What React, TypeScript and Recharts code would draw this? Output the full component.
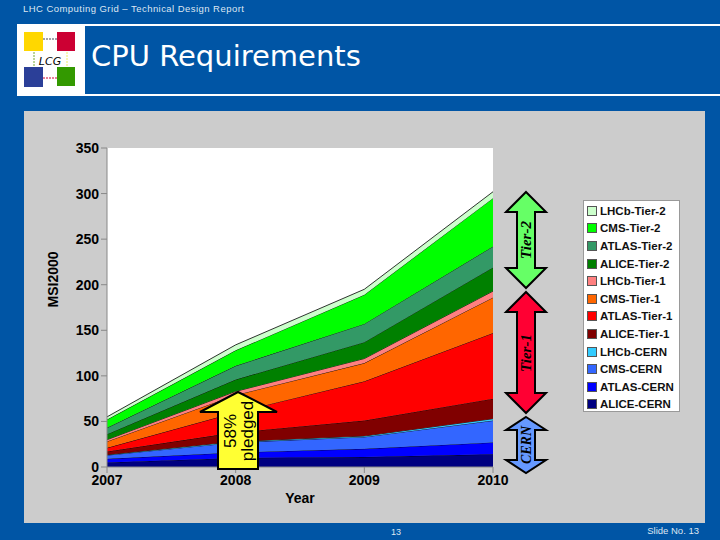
import { AreaChart, Area, XAxis, YAxis, CartesianGrid, Legend } from 'recharts';

const years = ['2007', '2008', '2009', '2010'];
const yTicks = [0, 50, 100, 150, 200, 250, 300, 350];

// stacked bottom to top
const aliceCern = [5, 10, 11, 14];
const atlasCern = [4, 6, 9, 13];
const cmsCern = [4, 11, 13, 24];
const lhcbCern = [0.5, 1, 1, 2];
const aliceT1 = [3.5, 10, 17, 22];
const atlasT1 = [4, 22, 43, 72];
const cmsT1 = [7, 19, 20, 39];
const lhcbT1 = [2, 4, 5, 7];
const aliceT2 = [6, 13, 18, 26];
const atlasT2 = [7, 15, 20, 23];
const cmsT2 = [9, 17, 32, 53];
const lhcbT2 = [3, 6, 6, 7];

const series = [
    { name: 'ALICE-CERN', values: aliceCern, color: '#000080' },
    { name: 'ATLAS-CERN', values: atlasCern, color: '#0000FF' },
    { name: 'CMS-CERN', values: cmsCern, color: '#3366FF' },
    { name: 'LHCb-CERN', values: lhcbCern, color: '#33CCFF' },
    { name: 'ALICE-Tier-1', values: aliceT1, color: '#800000' },
    { name: 'ATLAS-Tier-1', values: atlasT1, color: '#FF0000' },
    { name: 'CMS-Tier-1', values: cmsT1, color: '#FF6600' },
    { name: 'LHCb-Tier-1', values: lhcbT1, color: '#FF8080' },
    { name: 'ALICE-Tier-2', values: aliceT2, color: '#008000' },
    { name: 'ATLAS-Tier-2', values: atlasT2, color: '#339966' },
    { name: 'CMS-Tier-2', values: cmsT2, color: '#00FF00' },
    { name: 'LHCb-Tier-2', values: lhcbT2, color: '#CCFFCC' },
];

const data = years.map((year, i) => {
    const row: Record<string, string | number> = { year };
    series.forEach((s) => { row[s.name] = s.values[i]; });
    return row;
});

const sans = '"Liberation Sans", Arial, sans-serif';
const serif = '"Liberation Serif", serif';
const blue = '#0055A5';

const LegendBox = () => (
    <div style={{ width: 97, height: 212, background: '#fff', border: '1px solid #999', boxSizing: 'border-box', paddingTop: 1 }}>
        {[...series].reverse().map((s) => (
            <div key={s.name} style={{ display: 'flex', alignItems: 'center', height: 17.6, fontFamily: sans, fontWeight: 'bold', fontSize: 11.5, color: '#111', whiteSpace: 'nowrap' }}>
                <span style={{ width: 8, height: 8, margin: '0 3px 0 3px', background: s.color, border: '1px solid #555', flex: 'none' }} />
                {s.name}
            </div>
        ))}
    </div>
);

// double headed block arrow running up the page
const doubleArrow = (top: number, bottom: number, head: number, cx: number, halfHead: number, halfShaft: number) =>
    [
        [cx, top], [cx + halfHead, top + head], [cx + halfShaft, top + head], [cx + halfShaft, bottom - head],
        [cx + halfHead, bottom - head], [cx, bottom], [cx - halfHead, bottom - head], [cx - halfShaft, bottom - head],
        [cx - halfShaft, top + head], [cx - halfHead, top + head],
    ].map((p) => p.join(',')).join(' ');

const Overlay = () => (
    <svg width={720} height={540} style={{ position: 'absolute', left: 0, top: 0, pointerEvents: 'none' }}>
        <polygon points="238,392 277,412 258,412 258,469 218,469 218,412 200,412" fill="#FFFF33" stroke="#000" strokeWidth={2} />
        <text transform="translate(236,431) rotate(-90)" textAnchor="middle" fontFamily={sans} fontSize={17} fill="#000">58%</text>
        <text transform="translate(253,431) rotate(-90)" textAnchor="middle" fontFamily={sans} fontSize={17} fill="#000">pledged</text>

        <polygon points={doubleArrow(192, 288, 20, 526, 20, 9)} fill="#66FF66" stroke="#000" strokeWidth={2} />
        <text transform="translate(531,240) rotate(-90)" textAnchor="middle" fontFamily={serif} fontStyle="italic" fontWeight="bold" fontSize={15} fill="#000">Tier-2</text>

        <polygon points={doubleArrow(292, 413, 20, 526, 20, 9)} fill="#FF0033" stroke="#000" strokeWidth={2} />
        <text transform="translate(531,353) rotate(-90)" textAnchor="middle" fontFamily={serif} fontStyle="italic" fontWeight="bold" fontSize={15} fill="#000">Tier-1</text>

        <polygon points={doubleArrow(417, 473, 13, 526, 20, 9)} fill="#6699FF" stroke="#000" strokeWidth={2} />
        <text transform="translate(531,445) rotate(-90)" textAnchor="middle" fontFamily={serif} fontStyle="italic" fontWeight="bold" fontSize={14} fill="#000">CERN</text>
    </svg>
);

const Logo = () => (
    <svg width={68} height={72} style={{ position: 'absolute', left: 17, top: 24 }}>
        <rect width={68} height={72} fill="#fff" />
        <line x1={26} y1={15} x2={42} y2={15} stroke="#445" strokeWidth={1} strokeDasharray="2 1" />
        <line x1={26} y1={54} x2={42} y2={54} stroke="#C03" strokeWidth={1} strokeDasharray="2 1" />
        <line x1={17} y1={28} x2={17} y2={44} stroke="#7A3" strokeWidth={1} strokeDasharray="2 1" />
        <line x1={50} y1={28} x2={50} y2={44} stroke="#EE6" strokeWidth={1} strokeDasharray="2 1" />
        <rect x={7} y={8} width={19} height={19} fill="#FFD700" />
        <rect x={40} y={8} width={18} height={19} fill="#CC0033" />
        <rect x={7} y={43} width={19} height={20} fill="#2B3F98" />
        <rect x={40} y={43} width={18} height={19} fill="#339900" />
        <text x={33} y={41} textAnchor="middle" fontFamily={'"DejaVu Sans", sans-serif'} fontStyle="italic" fontSize={11} fill="#000">LCG</text>
    </svg>
);

export default function App() {
    return (
        <div style={{ position: 'fixed', left: 0, top: 0, width: 720, height: 540, background: blue, overflow: 'hidden' }}>
            <div style={{ position: 'absolute', left: 23, top: 3, fontFamily: sans, fontSize: 9.5, letterSpacing: 0.45, color: '#DDE6F2', whiteSpace: 'nowrap' }}>
                LHC Computing Grid – Technical Design Report
            </div>
            <div style={{ position: 'absolute', left: 17, top: 24, width: 703, height: 2, background: '#fff' }} />
            <div style={{ position: 'absolute', left: 17, top: 94, width: 703, height: 2, background: '#fff' }} />
            <Logo />
            <div style={{ position: 'absolute', left: 91, top: 39, fontFamily: '"DejaVu Sans", sans-serif', fontSize: 29, color: '#fff', whiteSpace: 'nowrap' }}>
                CPU Requirements
            </div>
            <div style={{ position: 'absolute', left: 24, top: 111, width: 681, height: 412, background: '#CCCCCC' }} />

            <div style={{ position: 'absolute', left: 0, top: 0 }}>
                <AreaChart width={720} height={540} data={data} margin={{ left: 47, right: 130, top: 148, bottom: 43 }}>
                    <CartesianGrid horizontal={false} vertical={false} fill="#fff" />
                    <XAxis dataKey="year" height={30} interval={0} tickLine={{ stroke: '#888' }} axisLine={{ stroke: '#888' }}
                        tick={{ fontFamily: sans, fontWeight: 'bold', fontSize: 14, fill: '#000' }}
                        label={{ value: 'Year', position: 'bottom', offset: -4, fontFamily: sans, fontWeight: 'bold', fontSize: 14, fill: '#000' }} />
                    <YAxis width={60} domain={[0, 350]} ticks={yTicks} interval={0} tickLine={{ stroke: '#888' }} axisLine={{ stroke: '#888' }}
                        tick={{ fontFamily: sans, fontWeight: 'bold', fontSize: 14, fill: '#000' }}
                        label={{ value: 'MSI2000', angle: -90, position: 'insideLeft', offset: 6, fontFamily: sans, fontWeight: 'bold', fontSize: 14, fill: '#000' }} />
                    {series.map((s) => (
                        <Area key={s.name} type="linear" dataKey={s.name} stackId="cpu" fill={s.color} fillOpacity={1} stroke="#000" strokeWidth={0.8} isAnimationActive={false} dot={false} />
                    ))}
                    <Legend layout="vertical" align="right" verticalAlign="top" content={<LegendBox />}
                        wrapperStyle={{ left: 583, top: 200, width: 97, height: 212 }} />
                </AreaChart>
            </div>

            <Overlay />
            <div style={{ position: 'absolute', left: 391, top: 527, fontFamily: sans, fontSize: 9, color: '#DDE6F2' }}>13</div>
            <div style={{ position: 'absolute', right: 21, top: 525, fontFamily: sans, fontSize: 9.5, color: '#DDE6F2' }}>Slide No. 13</div>
        </div>
    );
}
